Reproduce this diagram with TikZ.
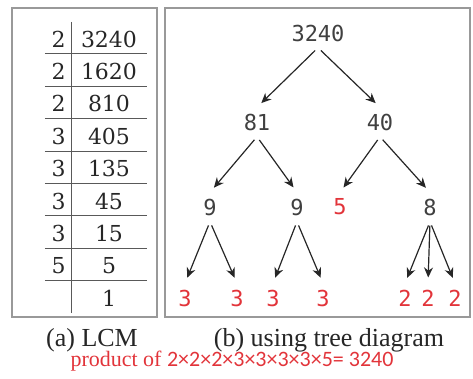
\documentclass[tikz,border=0pt]{standalone}
\usepackage{fontspec}
\setmainfont{Liberation Serif}
\newfontfamily\treefont{DejaVu Sans Mono}
\newfontfamily\cellfont{DejaVu Serif}
\newfontfamily\numfont{Carlito}
\usetikzlibrary{arrows.meta}
\definecolor{primered}{RGB}{226,52,58}

\begin{document}
\begin{tikzpicture}[x=0.5pt,y=-0.5pt,>=Stealth,
  frame/.style={draw=black!40,line width=0.8pt},
  rule/.style={draw=black!65,line width=0.5pt},
  cell/.style={font=\cellfont\fontsize{11}{13}\selectfont,text=black!85,inner sep=1pt},
  tnode/.style={font=\treefont\fontsize{11}{13}\selectfont,text=black!75,inner sep=3pt},
  prime/.style={tnode,text=primered},
  capt/.style={font=\fontsize{13}{15}\selectfont,text=black!85,inner sep=1pt},
  arr/.style={draw=black!85,line width=0.6pt,shorten <=2pt,shorten >=3pt,-{Stealth[length=5pt,width=4.5pt]}}]
\useasboundingbox (0,0) rectangle (473,379);
\draw[frame] (12,8) rectangle (157,317);
\draw[frame] (165,8) rectangle (470,317);
% division table
\foreach \d/\q [count=\i] in {2/3240,2/1620,2/810,3/405,3/135,3/45,3/15,5/5,/1} {
  \node[cell,anchor=east] (d\i) at (68,{39+32.4*(\i-1)}) {\d};
  \node[cell] (q\i) at (109,{39+32.4*(\i-1)}) {\q};
}
\foreach \i in {1,...,8}
  \draw[rule] (45,{54+32.4*(\i-1)}) -- (147,{54+32.4*(\i-1)});
\draw[rule] (72,22) -- (72,313);
% factor tree
\node[tnode] (root) at (318,33) {3240};
\node[tnode] (f81) at (257,122) {81};
\node[tnode] (f40) at (380,122) {40};
\node[tnode] (f9a) at (210,207) {9};
\node[tnode] (f9b) at (297,207) {9};
\node[prime] (f5) at (340,207) {5};
\node[tnode] (f8) at (430,207) {8};
\node[prime] (t1) at (185,298) {3};
\node[prime] (t2) at (237,298) {3};
\node[prime] (t3) at (273,298) {3};
\node[prime] (t4) at (323,298) {3};
\node[prime] (w1) at (405,298) {2};
\node[prime] (w2) at (428,298) {2};
\node[prime] (w3) at (455,298) {2};
\draw[arr] (root.south) -- (f81.north);
\draw[arr] (root.south) -- (f40.north);
\draw[arr] (f81.south) -- (f9a.north);
\draw[arr] (f81.south) -- (f9b.north);
\draw[arr] (f40.south) -- (f5.north);
\draw[arr] (f40.south) -- (f8.north);
\draw[arr] (f9a.south) -- (t1.north);
\draw[arr] (f9a.south) -- (t2.north);
\draw[arr] (f9b.south) -- (t3.north);
\draw[arr] (f9b.south) -- (t4.north);
\draw[arr] (f8.south) -- (w1.north);
\draw[arr] (f8.south) -- (w2.north);
\draw[arr] (f8.south) -- (w3.north);
% captions
\node[capt] (capa) at (92,340) {(a) LCM};
\node[capt] (capb) at (329,340) {(b) using tree diagram};
\node[capt,font=\fontsize{11}{13}\selectfont,text=primered] (prod) at (232,361) {product of {\numfont 2×2×2×3×3×3×3×5= 3240}};
\end{tikzpicture}
\end{document}
